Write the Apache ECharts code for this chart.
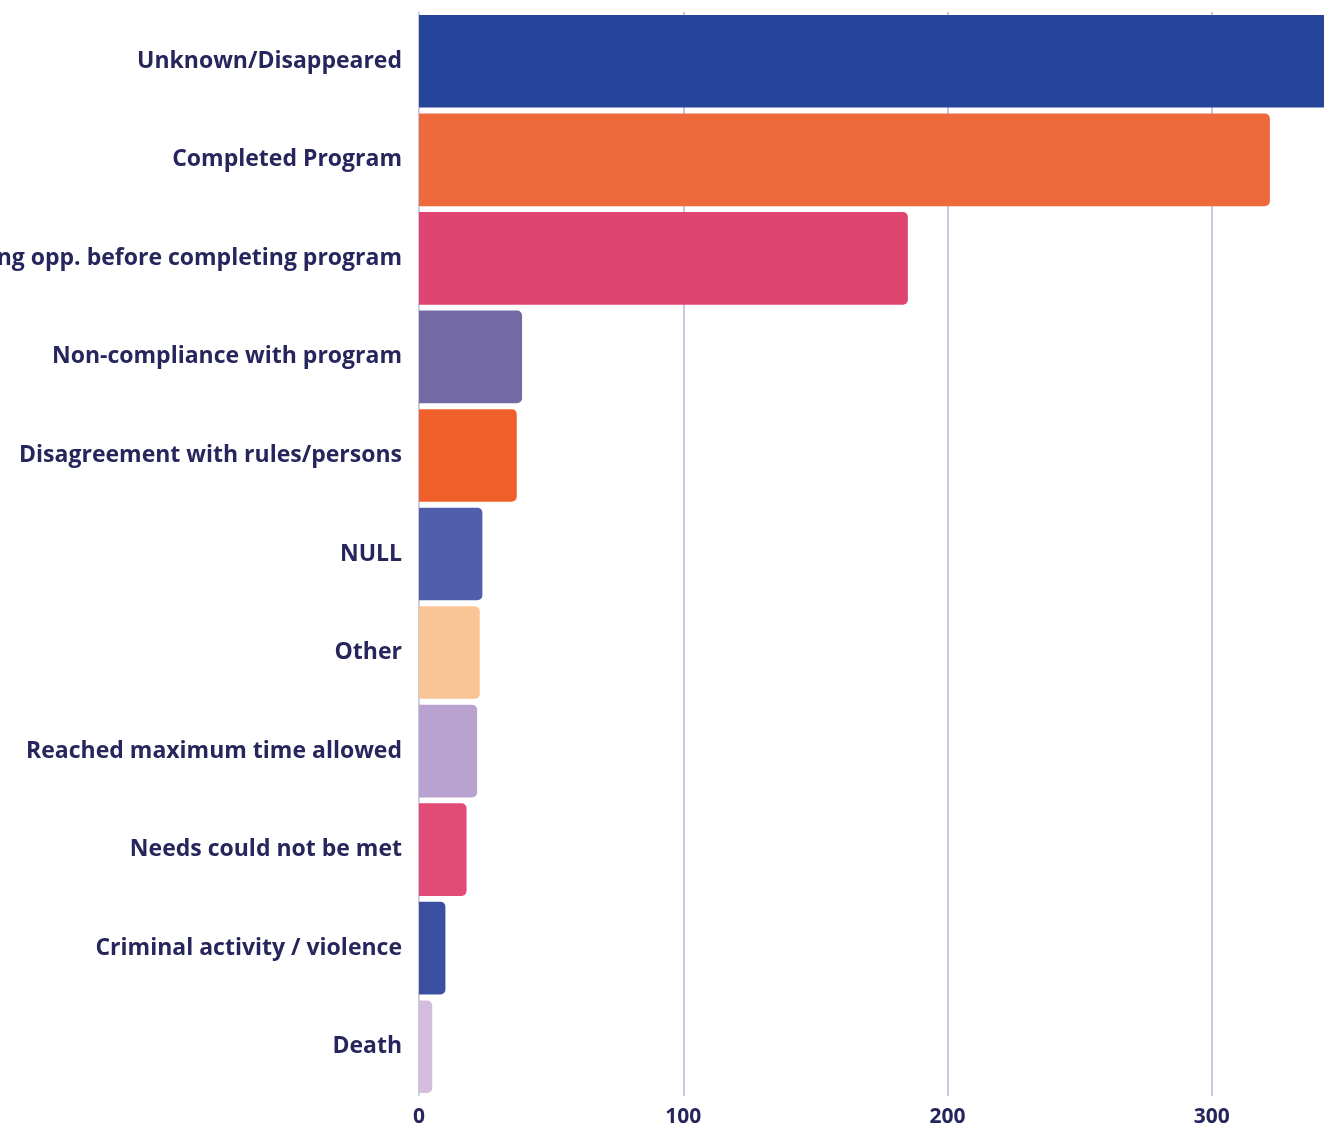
<!DOCTYPE html>
<html>
<head>
<meta charset="utf-8">
<script src="https://cdn.jsdelivr.net/npm/echarts@6/dist/echarts.min.js"></script>
<style>
  html, body { margin: 0; padding: 0; background: #ffffff; }
  #chart { width: 1324px; height: 1126px; }
</style>
</head>
<body>
<div id="chart"></div>
<script>
// Reasons for program exit, most frequent first
const categories = [
  'Unknown/Disappeared',
  'Completed Program',
  'Found housing opp. before completing program',
  'Non-compliance with program',
  'Disagreement with rules/persons',
  'NULL',
  'Other',
  'Reached maximum time allowed',
  'Needs could not be met',
  'Criminal activity / violence',
  'Death'
];
const counts = [380, 322, 185, 39, 37, 24, 23, 22, 18, 10, 5];
const barColors = [
  '#25449a', '#ee6a3c', '#e04470', '#736aa5', '#f0602a', '#4f5fab',
  '#f9c597', '#b9a2cf', '#e24b75', '#3a4fa0', '#d5bedd'
];
const tickStep = 100;

const textColor = '#26255c';
const chart = echarts.init(document.getElementById('chart'));

chart.setOption({
  backgroundColor: '#ffffff',
  animation: false,
  grid: {
    left: 419, top: 12, bottom: 30, right: -152,
    containLabel: false,
    outerBoundsMode: 'none'
  },
  xAxis: {
    type: 'value',
    min: 0,
    max: 400,
    interval: tickStep,
    axisLine: { show: false },
    axisTick: { show: false },
    splitLine: { show: true, lineStyle: { color: '#c9c8dc', width: 2 } },
    axisLabel: {
      color: textColor,
      fontFamily: 'Open Sans',
      fontWeight: 'bold',
      fontSize: 21,
      margin: 11
    }
  },
  yAxis: {
    type: 'category',
    inverse: true,
    data: categories,
    axisLine: { show: true, lineStyle: { color: '#d6d5e6', width: 1 } },
    axisTick: { show: false },
    axisLabel: {
      color: textColor,
      fontFamily: 'Open Sans',
      fontWeight: 'bold',
      fontSize: 23,
      margin: 17
    }
  },
  series: [{
    type: 'bar',
    data: counts.map((v, i) => ({ value: v, itemStyle: { color: barColors[i] } })),
    barCategoryGap: '6%',
    itemStyle: { borderRadius: [0, 5, 5, 0] }
  }]
});
</script>
</body>
</html>
